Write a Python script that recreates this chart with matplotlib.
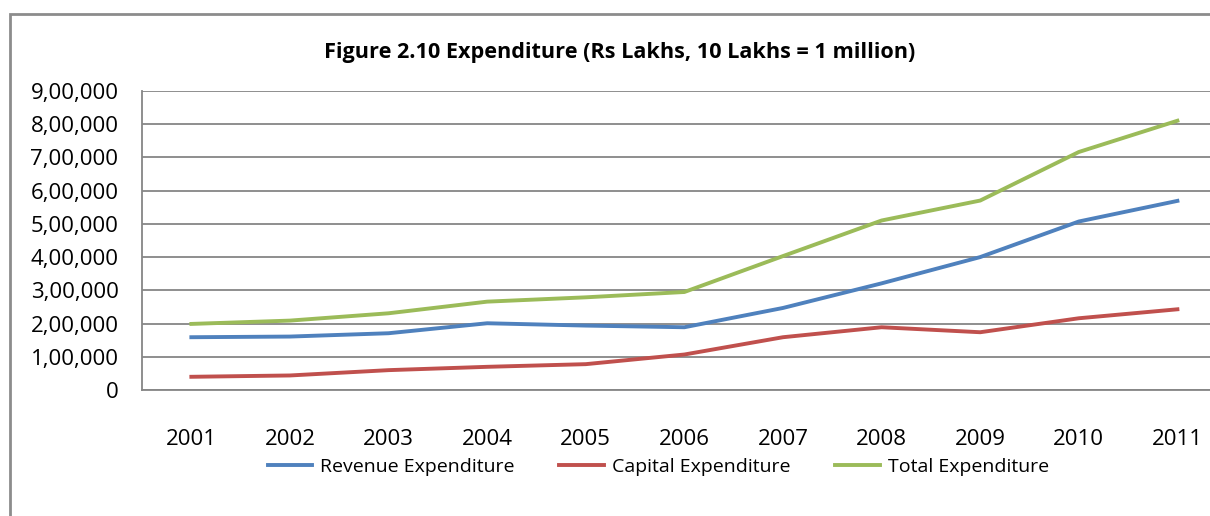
import matplotlib.pyplot as plt
import matplotlib.patches as patches
from matplotlib.ticker import FuncFormatter

# Expenditure data (Rs Lakhs)
years = ["2001", "2002", "2003", "2004", "2005", "2006", "2007", "2008", "2009", "2010", "2011"]
revenue = [159000, 161000, 171000, 201000, 194000, 189000, 247000, 321000, 400000, 507000, 569000]
capital = [40000, 44000, 60000, 70000, 78000, 107000, 159000, 189000, 174000, 216000, 243000]
total = [199000, 209000, 231000, 266000, 279000, 295000, 403000, 510000, 570000, 716000, 810000]

plt.rcParams['font.family'] = ['Open Sans', 'DejaVu Sans']


def indian_fmt(v, pos):
    # lakh-style grouping: 9,00,000
    v = int(round(v))
    if v == 0:
        return "0"
    s = str(v)
    last3 = s[-3:]
    rest = s[:-3]
    groups = []
    while len(rest) > 2:
        groups.insert(0, rest[-2:])
        rest = rest[:-2]
    if rest:
        groups.insert(0, rest)
    return ",".join(groups + [last3])


fig = plt.figure(figsize=(12.1, 5.16), dpi=100)
# plot area runs past the right edge, as in the cropped original
ax = fig.add_axes([0.1174, 0.244, 0.8964, 0.580])

# outer chart border (right and bottom sides cut off)
fig.patches.append(patches.Rectangle((0.0083, -0.05), 1.2, 1.023, transform=fig.transFigure,
                                     fill=False, edgecolor='#8c8c8c', linewidth=2))

x = range(len(years))
ax.plot(x, revenue, color='#4F81BD', linewidth=2.8, label='Revenue Expenditure')
ax.plot(x, capital, color='#C0504D', linewidth=2.8, label='Capital Expenditure')
ax.plot(x, total, color='#9BBB59', linewidth=2.8, label='Total Expenditure')

ax.set_xlim(-0.5, len(years) - 0.5)
ax.set_ylim(0, 900000)
ax.set_yticks(range(0, 900001, 100000))
ax.yaxis.set_major_formatter(FuncFormatter(indian_fmt))
ax.set_xticks(list(x))
ax.set_xticklabels(years)
ax.tick_params(axis='both', length=0, colors='black')
ax.tick_params(axis='x', pad=28, labelsize=16)
ax.tick_params(axis='y', pad=17, labelsize=16)

ax.grid(axis='y', color='#868686', linewidth=1.3)
ax.set_axisbelow(True)
for side in ['top', 'right']:
    ax.spines[side].set_visible(False)
for side in ['left', 'bottom']:
    ax.spines[side].set_color('#868686')
    ax.spines[side].set_linewidth(1.3)

fig.text(0.512, 0.899, "Figure 2.10 Expenditure (Rs Lakhs, 10 Lakhs = 1 million)",
         ha='center', va='center', fontsize=15.6, fontweight='bold')

fig.legend(loc='center', bbox_to_anchor=(0.544, 0.095), ncol=3, frameon=False,
           fontsize=14, handlelength=2.3, handletextpad=0.4, columnspacing=2.3)

fig.savefig("out.png", dpi=100)
